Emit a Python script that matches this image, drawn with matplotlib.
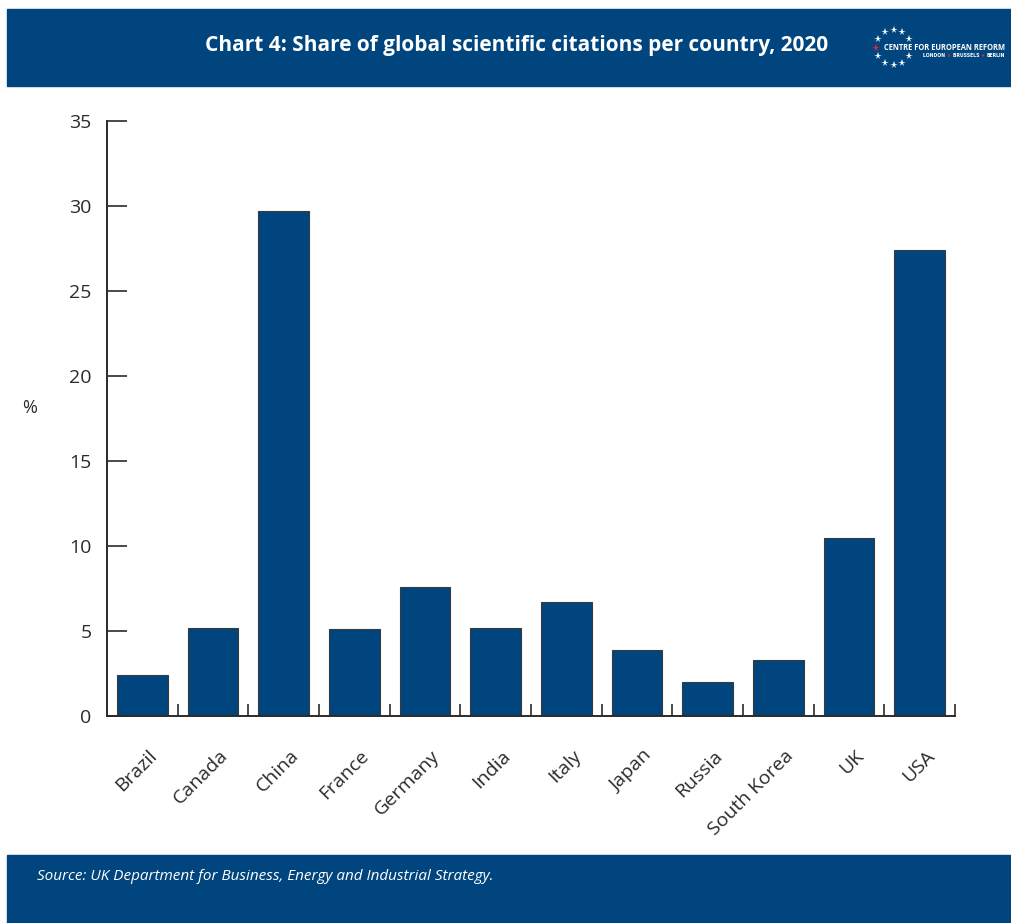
import numpy as np
import matplotlib
matplotlib.use("Agg")
import matplotlib.pyplot as plt
from matplotlib.patches import Rectangle
from matplotlib.lines import Line2D

countries = ["Brazil", "Canada", "China", "France", "Germany", "India", "Italy",
             "Japan", "Russia", "South Korea", "UK", "USA"]
share = [2.4, 5.2, 29.7, 5.1, 7.6, 5.2, 6.7, 3.9, 2.0, 3.3, 10.5, 27.4]
y_ticks = [0, 5, 10, 15, 20, 25, 30, 35]

title = "Chart 4: Share of global scientific citations per country, 2020"
source = "Source: UK Department for Business, Energy and Industrial Strategy."

NAVY = "#00457E"
INK = "#2b2b2b"

plt.rcParams["font.family"] = ["Open Sans", "DejaVu Sans"]

W, H = 1011, 923
fig = plt.figure(figsize=(W / 100, H / 100), dpi=100)


def fx(px):
    return px / W


def fy(py):
    return 1 - py / H


# header and footer bands
fig.add_artist(Rectangle((fx(7), fy(86)), fx(1011 - 7), (86 - 9) / H,
                         transform=fig.transFigure, color=NAVY, zorder=0))
fig.add_artist(Rectangle((fx(7), 0), fx(1011 - 7), (923 - 855) / H,
                         transform=fig.transFigure, color=NAVY, zorder=0))

fig.text(fx(517), fy(45), title, color="white", fontsize=15, fontweight="bold",
         ha="center", va="center")
fig.text(fx(37), fy(877), source, color="white", fontsize=11, style="italic",
         ha="left", va="center")

# logo: ring of stars with the organisation name
cx, cy, r = 893.5, 47.5, 17.5
for k in range(12):
    if k == 0:
        continue
    ang = np.deg2rad(k * 30)
    sx = cx + r * np.cos(ang)
    sy = cy - r * np.sin(ang)
    col = "#e8242b" if k == 6 else "white"
    fig.add_artist(Line2D([fx(sx)], [fy(sy)], marker="*", markersize=5.5,
                          markeredgewidth=0, color=col, linestyle="none",
                          transform=fig.transFigure))
name_txt = fig.text(fx(1005), fy(47.5), "CENTRE FOR EUROPEAN REFORM", color="white",
                    fontsize=6.0, fontweight="bold", ha="right", va="center")
renderer = fig.canvas.get_renderer()
# fit the name between the red star and the right margin
nb = name_txt.get_window_extent(renderer)
name_txt.set_fontsize(6.0 * 123.0 / nb.width)

logo_sub = [("LONDON ", "white"), ("★ ", "#e8242b"), ("BRUSSELS ", "white"),
            ("★ ", "#e8242b"), ("BERLIN", "white")]
pieces = []
for txt, col in logo_sub:
    t = fig.text(0, fy(55.5), txt, color=col, fontsize=3.3, fontweight="bold",
                 ha="left", va="center", family=["DejaVu Sans"])
    bb = t.get_window_extent(renderer)
    pieces.append((t, bb.width))
total = sum(w for _, w in pieces)
start = 1005 - total
for t, w in pieces:
    t.set_x(fx(start))
    start += w

# chart area
ax = fig.add_axes([fx(107), fy(716), fx(955 - 107), (716 - 121) / H])
x = np.arange(len(countries))
ax.bar(x, share, width=0.72, color=NAVY, edgecolor="#3a3a3a", linewidth=0.8,
       zorder=2)
ax.set_xlim(-0.5, len(countries) - 0.5)
ax.set_ylim(0, 35)

for s in ["top", "right"]:
    ax.spines[s].set_visible(False)
for s in ["left", "bottom"]:
    ax.spines[s].set_color(INK)
    ax.spines[s].set_linewidth(1.4)
    ax.spines[s].set_zorder(3)

ax.set_yticks(y_ticks)
ax.set_yticklabels([str(v) for v in y_ticks])
ax.tick_params(axis="y", direction="in", length=14.5, width=1.2, color=INK,
               labelsize=14, labelcolor=INK, pad=11)
ax.set_xticks(np.append(x[:-1] + 0.5, len(countries) - 0.5))
ax.set_xticklabels([])
ax.tick_params(axis="x", direction="in", length=8.5, width=1.2, color=INK)

for i, name in enumerate(countries):
    ax.annotate(name, xy=(i, 0), xycoords=("data", "axes fraction"),
                xytext=(12, -37), textcoords="offset pixels",
                ha="right", va="center", rotation=45, rotation_mode="anchor",
                fontsize=14, color=INK)

fig.text(fx(30), fy(408), "%", fontsize=13, color=INK, ha="center", va="center")

fig.savefig("out.png", dpi=100)
